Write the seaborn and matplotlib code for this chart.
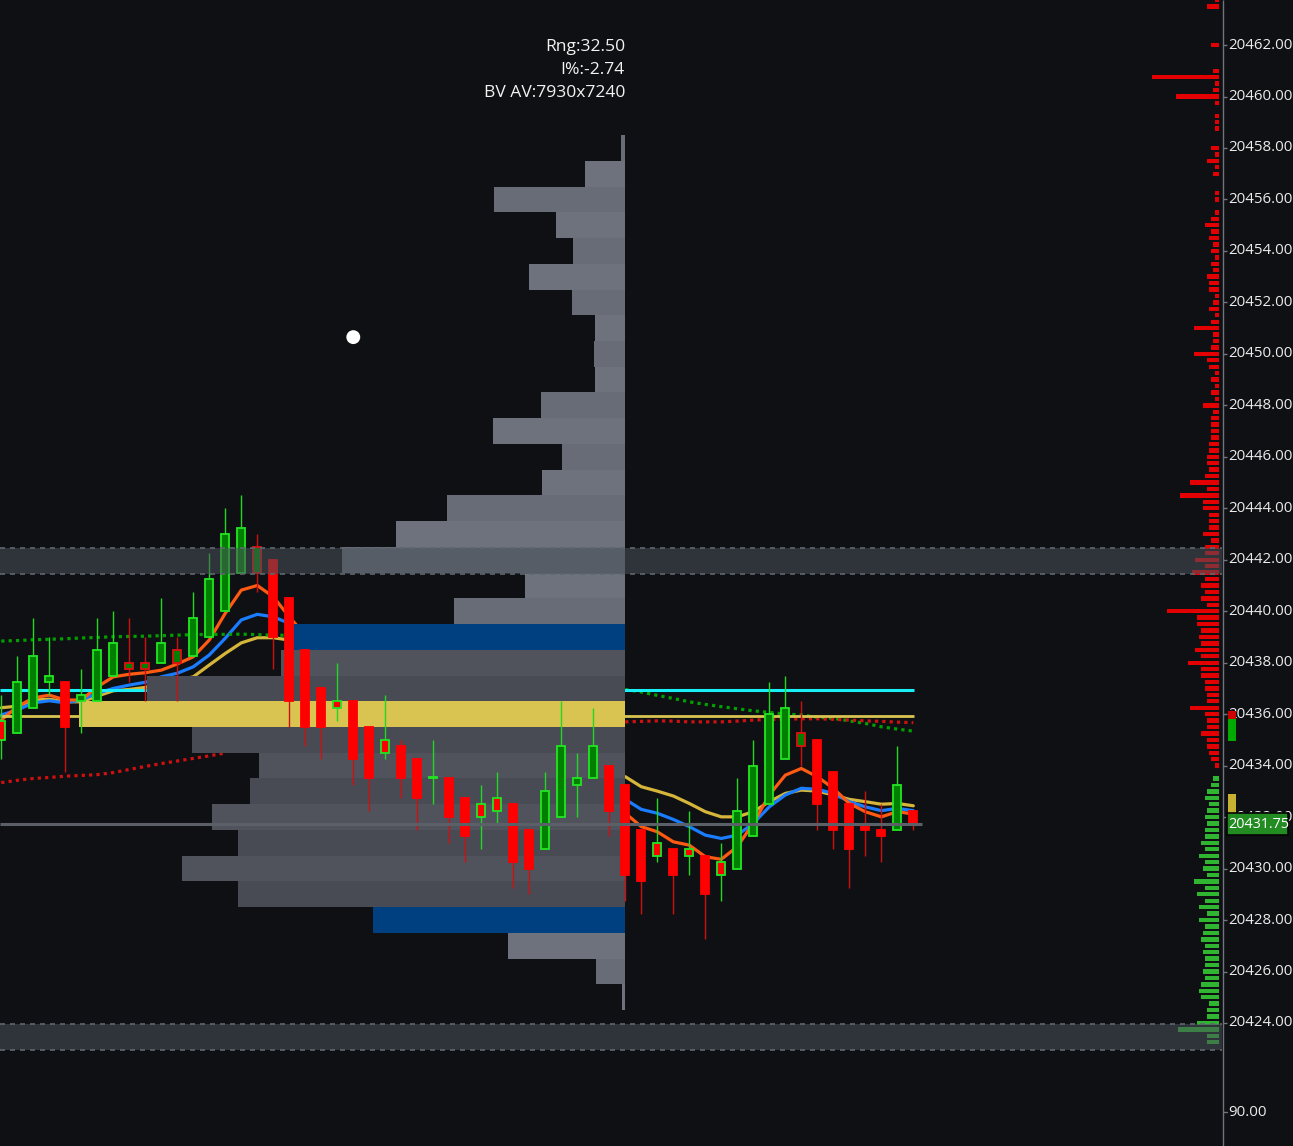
import numpy as np
import pandas as pd
import matplotlib
matplotlib.use("Agg")
import matplotlib.pyplot as plt
import seaborn as sns
from matplotlib.patches import Rectangle

# ---------------- data ----------------
opens = [20435.75, 20435.25, 20436.25, 20437.25, 20437.25, 20436.5, 20436.5, 20437.5, 20437.75, 20437.75,
         20438.0, 20438.0, 20438.25, 20439.0, 20440.0, 20441.5, 20441.5, 20442.0, 20440.5, 20438.5,
         20437.0, 20436.5, 20436.5, 20435.5, 20435.0, 20434.75, 20434.25, 20433.5, 20433.5, 20432.75,
         20432.5, 20432.75, 20432.5, 20431.5, 20430.75, 20432.0, 20433.25, 20433.5, 20434.0, 20433.25,
         20431.5, 20431.0, 20430.75, 20430.75, 20430.5, 20430.25, 20430.0, 20431.25, 20432.5, 20434.25,
         20434.75, 20435.0, 20433.75, 20432.5, 20431.75, 20431.5, 20431.5, 20432.25]
highs = [20436.75, 20438.25, 20439.75, 20439.0, 20437.25, 20437.75, 20439.75, 20440.0, 20439.75, 20439.0,
         20440.5, 20439.0, 20440.75, 20442.25, 20444.0, 20444.5, 20443.0, 20442.0, 20440.5, 20438.5,
         20437.0, 20438.0, 20436.5, 20435.5, 20436.75, 20435.0, 20434.25, 20435.0, 20433.5, 20432.75,
         20433.25, 20433.75, 20432.5, 20431.5, 20433.75, 20436.5, 20434.5, 20436.25, 20434.0, 20433.25,
         20431.5, 20432.75, 20430.75, 20432.25, 20430.5, 20431.0, 20433.5, 20435.0, 20437.25, 20437.5,
         20436.5, 20435.0, 20433.75, 20432.5, 20433.0, 20432.5, 20434.75, 20432.25]
lows = [20434.25, 20435.25, 20436.25, 20436.75, 20433.75, 20435.25, 20436.5, 20437.5, 20437.25, 20436.5,
        20438.0, 20436.5, 20438.25, 20439.0, 20440.0, 20441.5, 20440.75, 20437.75, 20435.5, 20434.75,
        20434.25, 20435.75, 20433.25, 20432.25, 20434.25, 20432.75, 20431.5, 20432.5, 20431.0, 20430.25,
        20430.75, 20431.75, 20429.25, 20429.0, 20430.75, 20432.0, 20432.0, 20433.5, 20431.25, 20428.75,
        20428.25, 20430.25, 20428.25, 20429.75, 20427.25, 20428.75, 20430.0, 20431.25, 20432.5, 20434.25,
        20434.0, 20431.5, 20430.75, 20429.25, 20430.5, 20430.25, 20431.5, 20431.5]
closes = [20435.0, 20437.25, 20438.25, 20437.5, 20435.5, 20436.75, 20438.5, 20438.75, 20438.0, 20438.0,
          20438.75, 20438.5, 20439.75, 20441.25, 20443.0, 20443.25, 20442.5, 20439.0, 20436.5, 20435.5,
          20435.5, 20436.25, 20434.25, 20433.5, 20434.5, 20433.5, 20432.75, 20433.5, 20432.0, 20431.25,
          20432.0, 20432.25, 20430.25, 20430.0, 20433.0, 20434.75, 20433.5, 20434.75, 20432.25, 20429.75,
          20429.5, 20430.5, 20429.75, 20430.5, 20429.0, 20429.75, 20432.25, 20434.0, 20436.0, 20436.25,
          20435.25, 20432.5, 20431.5, 20430.75, 20431.5, 20431.25, 20433.25, 20431.75]
# outline colour of each candle: 'g' = green outline, 'r' = red outline
outlines = ["g","g","g","g","r","g","g","g","r","r",
            "g","r","g","g","g","g","r","r","r","r",
            "r","g","r","r","g","r","r","g","r","r",
            "g","g","r","r","g","g","g","g","r","r",
            "r","g","r","g","r","g","g","g","g","g",
            "r","r","r","r","r","r","g","r"]

nan = np.nan
ema_fast = ([20435.77, 20436.29, 20436.63, 20436.74, 20436.55, 20436.55, 20437.06, 20437.45, 20437.55, 20437.61,
             20437.71, 20437.95, 20438.23, 20438.88, 20439.92, 20440.82, 20441.00, 20440.56, 20439.78, 20439.07]
            + [nan] * 19 +
            [20432.15, 20431.63, 20431.43, 20431.04, 20430.91, 20430.46, 20430.36, 20430.85, 20431.76, 20432.86,
             20433.63, 20433.89, 20433.57, 20433.12, 20432.53, 20432.21, 20432.01, 20432.21, 20432.12])
ema_mid = ([20435.97, 20436.16, 20436.44, 20436.52, 20436.44, 20436.55, 20436.81, 20437.00, 20437.13, 20437.24,
            20437.45, 20437.59, 20437.84, 20438.30, 20438.95, 20439.66, 20439.88, 20439.78, 20439.53, 20439.27]
           + [nan] * 19 +
           [20432.69, 20432.30, 20432.15, 20431.91, 20431.63, 20431.30, 20431.17, 20431.30, 20431.76, 20432.40,
            20432.86, 20433.12, 20433.08, 20432.92, 20432.60, 20432.40, 20432.25, 20432.34, 20432.25])
ema_slow = ([20436.25, 20436.31, 20436.55, 20436.58, 20436.48, 20436.48, 20436.70, 20436.91, 20436.96, 20437.04,
             20437.21, 20437.32, 20437.45, 20437.91, 20438.36, 20438.77, 20438.97, 20438.97, 20438.88, 20438.76]
            + [nan] * 19 +
            [20433.57, 20433.18, 20433.01, 20432.82, 20432.53, 20432.21, 20432.01, 20432.01, 20432.21, 20432.60,
             20432.92, 20433.05, 20433.01, 20432.86, 20432.69, 20432.60, 20432.50, 20432.53, 20432.44])
ma_green = ([20438.84, 20438.86, 20438.89, 20438.91, 20438.93, 20438.96, 20438.98, 20439.01, 20439.02, 20439.03,
             20439.05, 20439.07, 20439.09, 20439.10, 20439.10, 20439.11, 20439.09, 20439.07, 20439.06, 20439.03]
            + [nan] * 19 +
            [20436.96, 20436.86, 20436.73, 20436.61, 20436.48, 20436.38, 20436.29, 20436.21, 20436.13, 20436.07,
             20436.00, 20435.97, 20435.88, 20435.84, 20435.74, 20435.64, 20435.51, 20435.42, 20435.34])
ma_red = ([20433.34, 20433.43, 20433.50, 20433.54, 20433.59, 20433.62, 20433.65, 20433.73, 20433.85, 20433.97,
           20434.08, 20434.18, 20434.28, 20434.38, 20434.49] + [nan] * 24 +
          [20435.70, 20435.72, 20435.74, 20435.73, 20435.70, 20435.70, 20435.70, 20435.73, 20435.77, 20435.80,
           20435.80, 20435.82, 20435.82, 20435.80, 20435.77, 20435.74, 20435.72, 20435.69, 20435.67])

profile_prices = list(range(20458, 20424, -1))
profile_vols = [4, 40, 131, 69, 52, 96, 53, 30, 31, 30,
                84, 132, 63, 83, 178, 229, 283, 100, 171, 332,
                344, 478, 546, 433, 366, 375, 413, 387, 443, 387,
                252, 117, 29, 3]
poc_price = 20436
vah_price = 20439
val_price = 20428

ask_prices = [20463.75, 20463.5, 20462.0, 20461.0, 20460.75, 20460.5, 20460.25, 20460.0, 20459.75, 20459.25,
              20459.0, 20458.75, 20458.0, 20457.75, 20457.5, 20457.25, 20457.0, 20456.25, 20456.0, 20455.5,
              20455.25, 20455.0, 20454.75, 20454.5, 20454.25, 20454.0, 20453.75, 20453.5, 20453.25, 20453.0,
              20452.75, 20452.5, 20452.25, 20452.0, 20451.75, 20451.5, 20451.25, 20451.0, 20450.75, 20450.5,
              20450.25, 20450.0, 20449.75, 20449.5, 20449.25, 20449.0, 20448.75, 20448.5, 20448.25, 20448.0,
              20447.75, 20447.5, 20447.25, 20447.0, 20446.75, 20446.5, 20446.25, 20446.0, 20445.75, 20445.5,
              20445.25, 20445.0, 20444.75, 20444.5, 20444.25, 20444.0, 20443.75, 20443.5, 20443.25, 20443.0,
              20442.75, 20442.5, 20442.25, 20442.0, 20441.75, 20441.5, 20441.25, 20441.0, 20440.75, 20440.5,
              20440.25, 20440.0, 20439.75, 20439.5, 20439.25, 20439.0, 20438.75, 20438.5, 20438.25, 20438.0,
              20437.75, 20437.5, 20437.25, 20437.0, 20436.75, 20436.5, 20436.25, 20436.0, 20435.75, 20435.5,
              20435.25, 20435.0, 20434.75, 20434.5, 20434.25, 20434.0]
ask_sizes = [4, 12, 8, 6, 67, 4, 6, 43, 4, 4,
             4, 4, 8, 4, 12, 4, 6, 4, 4, 4,
             8, 14, 8, 10, 6, 8, 4, 8, 6, 12,
             10, 10, 4, 6, 10, 4, 8, 25, 6, 6,
             8, 25, 12, 10, 4, 8, 4, 8, 4, 16,
             6, 8, 8, 8, 8, 10, 10, 12, 12, 10,
             14, 29, 12, 39, 16, 16, 10, 10, 10, 16,
             8, 14, 14, 24, 14, 27, 14, 18, 14, 18,
             12, 52, 22, 22, 18, 20, 18, 24, 18, 31,
             18, 18, 14, 14, 12, 12, 29, 14, 12, 12,
             18, 12, 12, 10, 8, 4]
bid_prices = [20433.5, 20433.25, 20433.0, 20432.75, 20432.5, 20432.25, 20432.0, 20431.75, 20431.5, 20431.25,
              20431.0, 20430.75, 20430.5, 20430.25, 20430.0, 20429.75, 20429.5, 20429.25, 20429.0, 20428.75,
              20428.5, 20428.25, 20428.0, 20427.75, 20427.5, 20427.25, 20427.0, 20426.75, 20426.5, 20426.25,
              20426.0, 20425.75, 20425.5, 20425.25, 20425.0, 20424.75, 20424.5, 20424.25, 20424.0, 20423.75,
              20423.5, 20423.25]
bid_sizes = [6, 8, 12, 14, 10, 12, 14, 12, 14, 14,
             18, 14, 20, 14, 16, 12, 25, 14, 22, 14,
             20, 12, 20, 14, 16, 18, 14, 16, 14, 14,
             16, 14, 18, 20, 18, 10, 12, 12, 22, 41,
             12, 12]

last_price = 20431.75
level_cyan = 20436.95
level_poc_line = 20435.92
zone_upper = (20441.45, 20442.45)
zone_lower = (20422.95, 20423.95)
dot_bar, dot_price = 22, 20450.65
axis_ticks = list(range(20424, 20463, 2))
info_lines = ["Rng:32.50", "I%:-2.74", "BV AV:7930x7240"]

# ---------------- styling ----------------
sns.set_theme(style="dark")
plt.rcParams["font.family"] = ["Open Sans", "DejaVu Sans"]
BG = "#0f1013"

fig = plt.figure(figsize=(12.93, 11.46), dpi=100, facecolor=BG)
ax = fig.add_axes([0, 0, 1, 1])
ax.set_facecolor(BG)
X0, X1 = -0.08, 80.73
ax.set_xlim(X0, X1)
ax.set_ylim(20419.22, 20463.75)
ax.axis("off")

n = len(opens)
bars = np.arange(n)
df = pd.DataFrame({"bar": bars, "fast": ema_fast, "mid": ema_mid, "slow": ema_slow,
                   "g": ma_green, "r": ma_red})

# moving averages (drawn below profile)
line_specs = [("slow", "#d6b63a", "-"), ("mid", "#1a7cff", "-"), ("fast", "#ff5a14", "-"),
              ("g", "#00a000", (0, (1.0, 1.3))), ("r", "#d01010", (0, (1.0, 1.3)))]
for seg in [(0, 20), (39, n)]:
    d = df.iloc[seg[0]:seg[1]]
    for col, colr, ls in line_specs:
        sns.lineplot(data=d, x="bar", y=col, ax=ax, color=colr, linewidth=2.3,
                     linestyle=ls, estimator=None, sort=False, legend=False, zorder=2)

# horizontal levels
ax.hlines(level_cyan, X0, n - 0.95, color="#19f0f5", lw=2.2, zorder=2)
ax.hlines(level_poc_line, X0, n - 0.95, color="#d9c452", lw=2.0, zorder=2)

# volume profile
prof_right = 38.98
prof_max_w = 34.1
vmax = max(profile_vols)
pcolors = []
for i, p in enumerate(profile_prices):
    if p == poc_price:
        pcolors.append("#d9c452")
    elif p in (vah_price, val_price):
        pcolors.append("#003f80")
    elif val_price < p < vah_price:
        pcolors.append("#50535c" if p % 2 == 0 else "#484b54")
    else:
        pcolors.append("#6e727c" if p % 2 == 1 else "#686c76")
widths = np.array(profile_vols) / vmax * prof_max_w
ax.barh(profile_prices, widths, left=prof_right - widths, height=1.0, color=pcolors,
        linewidth=0, zorder=3)

# candles
for i in range(n):
    o, h, l, c = opens[i], highs[i], lows[i], closes[i]
    up = c >= o
    fill = "#007f00" if up else "#ff0000"
    edge = "#22e622" if outlines[i] == "g" else ("#e01010" if up else "#ff0000")
    wick = "#22d822" if outlines[i] == "g" else "#d01010"
    ax.vlines(i, l, h, color=wick, lw=1.0, zorder=4)
    ax.bar(i, max(abs(c - o), 0.06), bottom=min(o, c), width=0.52, color=fill,
           edgecolor=edge, linewidth=1.3, zorder=5)

# last price line
ax.hlines(last_price, X0, n - 0.45, color="#5b5f68", lw=2.2, zorder=6)

# marker dot
sns.scatterplot(x=[dot_bar], y=[dot_price], ax=ax, s=100, color="white",
                edgecolor="none", zorder=8, legend=False)

# order-book histogram at right
dom_right = 76.1
dom_scale = 4.19 / 67
aw = np.array(ask_sizes) * dom_scale
bw = np.array(bid_sizes) * dom_scale
ax.barh(ask_prices, aw, left=dom_right - aw, height=0.17, color="#e40000", linewidth=0, zorder=3)
ax.barh(bid_prices, bw, left=dom_right - bw, height=0.17, color="#2fb52f", linewidth=0, zorder=3)

# zones
axis_x = 76.36
zone_xmax = 76.3
for lo, hi in (zone_upper, zone_lower):
    ax.fill_between([X0, zone_xmax], lo, hi, color="#4a525c", alpha=0.55, linewidth=0, zorder=7)
    ax.hlines([lo, hi], X0, zone_xmax, colors="#5f666f", linestyles=(0, (3, 3)), lw=1.2, zorder=7)

# price axis
ax.vlines(axis_x, 20419.22, 20463.75, color="#70747c", lw=1.0, zorder=9)
for p in axis_ticks:
    ax.hlines(p, axis_x, axis_x + 0.25, color="#70747c", lw=1.0, zorder=9)
    ax.text(axis_x + 0.32, p, f"{p:.2f}", ha="left", va="center", color="#ececec",
            fontsize=10.8, zorder=9)
ax.text(0.9497, 1 - 1112 / 1146, "90.00", transform=ax.transAxes, ha="left", va="center",
        color="#ececec", fontsize=10.8)
ax.plot([0.9459, 0.949], [1 - 1112 / 1146] * 2, transform=ax.transAxes, color="#70747c", lw=1)

# small side markers near the axis
ax.add_patch(Rectangle((76.67, 20435.8), 0.5, 0.32, facecolor="#cc0000", lw=0, zorder=10))
ax.add_patch(Rectangle((76.67, 20434.97), 0.5, 0.83, facecolor="#00aa00", lw=0, zorder=10))
ax.add_patch(Rectangle((76.67, 20432.15), 0.5, 0.75, facecolor="#c8b030", lw=0, zorder=10))

# last price box
ax.add_patch(Rectangle((76.6, 20431.29), 3.82, 0.88, facecolor="#228b22", edgecolor="#050505",
                       lw=1.2, zorder=11))
ax.text(76.68, 20431.73, f"{last_price:.2f}", ha="left", va="center", color="white",
        fontsize=10.4, zorder=12)

# info text
for j, t in enumerate(info_lines):
    ax.text(625 / 1293, 1 - (47 + 23 * j) / 1146, t, transform=ax.transAxes, ha="right",
            va="center", color="#f2f2f2", fontsize=12.6)

fig.savefig("out.png", dpi=100, facecolor=BG)
